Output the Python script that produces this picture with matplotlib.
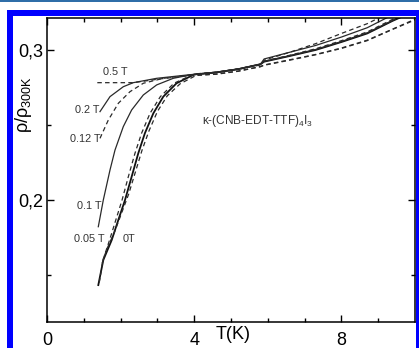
import matplotlib
matplotlib.use('Agg')
import matplotlib.pyplot as plt
from matplotlib.patches import Rectangle
from matplotlib.ticker import FixedLocator, FuncFormatter

plt.rcParams['font.family'] = ['Liberation Sans', 'DejaVu Sans']
plt.rcParams['mathtext.fontset'] = 'custom'
plt.rcParams['mathtext.rm'] = 'Liberation Sans'
plt.rcParams['mathtext.it'] = 'Liberation Sans:italic'

# ---------------- data ----------------
T_0T = [1.394, 1.53, 1.758, 1.938, 2.12, 2.30, 2.48, 2.66, 2.89, 3.16, 3.52, 4.0,
        4.6, 5.2, 5.8, 5.9, 6.6, 7.3, 8.0, 8.7, 9.4, 10.0]
rho_0T = [0.1433, 0.160, 0.1733, 0.1867, 0.200, 0.2155, 0.2311, 0.2445, 0.2578, 0.2689, 0.2778, 0.2837,
          0.2850, 0.2872, 0.2905, 0.2922, 0.2960, 0.3000, 0.3053, 0.3110, 0.3195, 0.3260]

T_005T = [1.42, 1.52, 1.70, 1.87, 2.04, 2.21, 2.39, 2.57, 2.80, 3.08, 3.45, 4.0,
          4.6, 5.2, 5.8, 5.9, 6.6, 7.3, 8.0, 8.7, 9.4, 10.0]
rho_005T = [0.1450, 0.160, 0.1733, 0.1867, 0.200, 0.2155, 0.2311, 0.2445, 0.2578, 0.2689, 0.2778, 0.2840,
            0.2852, 0.2874, 0.2905, 0.2925, 0.2965, 0.3008, 0.3062, 0.3120, 0.3205, 0.3270]

T_002T = [1.50, 1.62, 1.84, 2.03, 2.22, 2.40, 2.58, 2.77, 3.00, 3.27, 3.62, 4.05,
          4.6, 5.2, 5.8, 5.9, 6.6, 7.3, 8.0, 8.7, 9.4, 10.0]
rho_002T = [0.158, 0.167, 0.1790, 0.1915, 0.2040, 0.2185, 0.2330, 0.2460, 0.2590, 0.2695, 0.2775, 0.2830,
            0.2840, 0.2860, 0.2890, 0.2900, 0.2935, 0.2970, 0.3013, 0.3065, 0.3140, 0.3205]

T_01T = [1.394, 1.53, 1.712, 1.848, 2.073, 2.30, 2.617, 2.98, 3.43, 3.886,
         4.6, 5.2, 5.8, 5.9, 6.6, 7.3, 8.0, 8.7, 9.4, 10.0]
rho_01T = [0.1822, 0.200, 0.220, 0.2333, 0.2489, 0.260, 0.270, 0.2767, 0.2811, 0.2833,
           0.2851, 0.2873, 0.2905, 0.2924, 0.2962, 0.3003, 0.3056, 0.3114, 0.3198, 0.3265]

T_012T = [1.44, 1.666, 1.94, 2.255, 2.617, 3.16, 3.886,
          4.6, 5.2, 5.8, 5.9, 6.6, 7.3, 8.0, 8.7, 9.4, 10.0]
rho_012T = [0.2411, 0.2533, 0.2645, 0.2722, 0.2778, 0.2811, 0.2833,
            0.2850, 0.2872, 0.2900, 0.2932, 0.2985, 0.3042, 0.3110, 0.3175, 0.3260, 0.3330]

T_02T = [1.44, 1.712, 2.073, 2.345, 2.98, 3.80,
         4.6, 5.2, 5.8, 5.9, 6.6, 7.3, 8.0, 8.7, 9.4, 10.0]
rho_02T = [0.2589, 0.2689, 0.2755, 0.2782, 0.2811, 0.2833,
           0.2852, 0.2874, 0.2905, 0.2940, 0.2985, 0.3030, 0.3086, 0.3148, 0.3235, 0.3300]

T_05T = [1.367, 2.34, 3.07, 3.89,
         4.6, 5.2, 5.8, 5.9, 6.6, 7.3, 8.0, 8.7, 9.4, 10.0]
rho_05T = [0.2782, 0.2782, 0.2807, 0.2830,
           0.2838, 0.2858, 0.2888, 0.2898, 0.2932, 0.2968, 0.3010, 0.3062, 0.3138, 0.3200]

curve_labels = ['0.5 T', '0.2 T', '0.12 T', '0.1 T', '0.05 T', '0T']
label_T = [1.86, 1.09, 1.03, 1.14, 1.16, 2.23]
label_rho = [0.2855, 0.2600, 0.2407, 0.1960, 0.1740, 0.1743]

x_ticks = [0, 4, 8]
x_minor = [1, 2, 3, 5, 6, 7, 9]
y_ticks = [0.2, 0.3]
y_minor = [0.15, 0.25]

# ---------------- figure ----------------
W, H = 419, 348
fig = plt.figure(figsize=(W / 100, H / 100), dpi=100)
fig.patch.set_facecolor('white')

ax = fig.add_axes([47 / W, (H - 322) / H, (415 - 47) / W, (322 - 18) / H])

dash = (0, (3.6, 2.6))
lc = '#2a2a2a'
ax.plot(T_0T, rho_0T, color='#111111', lw=1.3)
ax.plot(T_005T, rho_005T, color=lc, lw=0.9, linestyle=dash)
ax.plot(T_002T, rho_002T, color=lc, lw=0.9, linestyle=dash)
ax.plot(T_01T, rho_01T, color=lc, lw=0.9)
ax.plot(T_012T, rho_012T, color=lc, lw=0.9, linestyle=dash)
ax.plot(T_02T, rho_02T, color=lc, lw=0.9)
ax.plot(T_05T, rho_05T, color=lc, lw=0.9, linestyle=dash)

for s, tx, ty in zip(curve_labels, label_T, label_rho):
    ax.text(tx, ty, s, fontsize=7.8, color='#333333', ha='center', va='center')

ax.text(4.2, 0.2507, 'κ-(CNB-EDT-TTF)$_{\\mathregular{4}}$I$_{\\mathregular{3}}$',
        fontsize=8.6, color='#333333', ha='left', va='baseline')

ax.set_xlim(0, 10)
ax.set_ylim(0.1187, 0.3213)

ax.xaxis.set_major_locator(FixedLocator(x_ticks))
ax.xaxis.set_minor_locator(FixedLocator(x_minor))
ax.yaxis.set_major_locator(FixedLocator(y_ticks))
ax.yaxis.set_minor_locator(FixedLocator(y_minor))
ax.xaxis.set_major_formatter(FuncFormatter(lambda v, p: f'{v:.0f}'))
ax.yaxis.set_major_formatter(FuncFormatter(lambda v, p: f'{v:.1f}'.replace('.', ',')))

ax.tick_params(which='both', direction='in', top=True, right=True, width=1, colors='black')
ax.tick_params(which='major', length=5, labelsize=13)
ax.tick_params(which='minor', length=3)
ax.tick_params(axis='x', which='major', pad=7)
ax.tick_params(axis='y', which='major', pad=3)
for sp in ax.spines.values():
    sp.set_linewidth(1.1)

ax.set_xlabel('T(K)', fontsize=13)
ax.xaxis.set_label_coords(0.507, -0.012)
ax.set_ylabel('ρ/ρ$_{\\mathregular{300K}}$', fontsize=13)
ax.yaxis.set_label_coords(-0.035, 0.714)

# blue frame of the picture
def frame_rect(x, y, w, h, color):
    fig.add_artist(Rectangle((x / W, 1 - (y + h) / H), w / W, h / H,
                             transform=fig.transFigure, facecolor=color,
                             edgecolor='none', zorder=10))

frame_rect(0, 0, W, 2, '#2f6ea8')
frame_rect(7, 10, W - 7, 6, '#0000ff')
frame_rect(7, 10, 6, H - 10, '#0000ff')
frame_rect(416, 10, 3, H - 10, '#0000ff')

fig.savefig('out.png', dpi=100)
